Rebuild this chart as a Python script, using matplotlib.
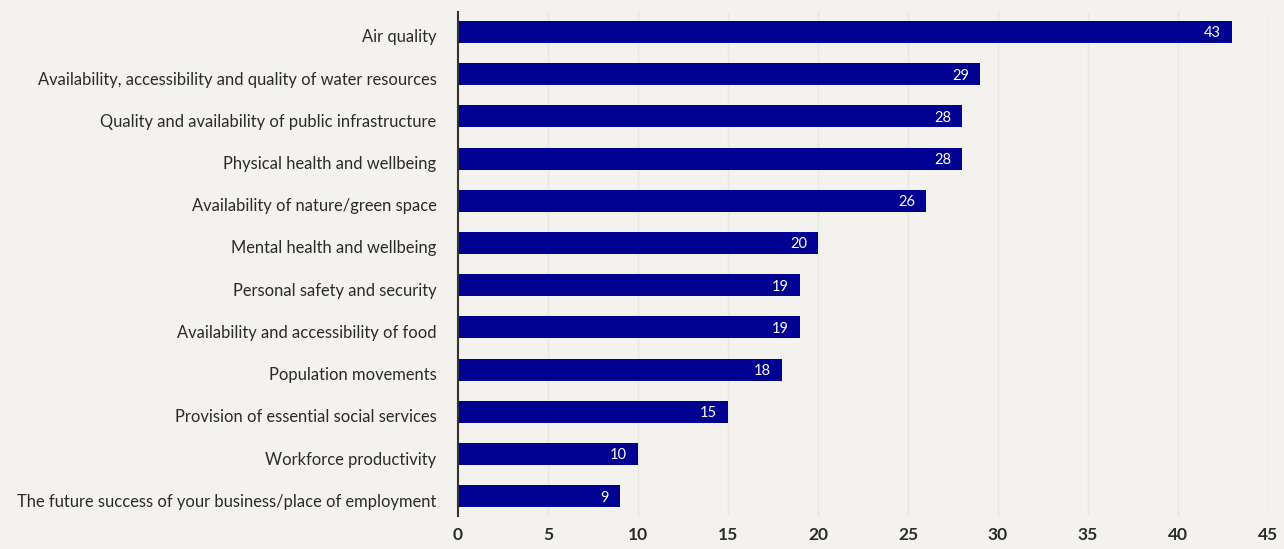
import matplotlib.pyplot as plt
from matplotlib.transforms import ScaledTranslation

plt.rcParams['font.family'] = ['Lato', 'DejaVu Sans']

categories = [
    "Air quality",
    "Availability, accessibility and quality of water resources",
    "Quality and availability of public infrastructure",
    "Physical health and wellbeing",
    "Availability of nature/green space",
    "Mental health and wellbeing",
    "Personal safety and security",
    "Availability and accessibility of food",
    "Population movements",
    "Provision of essential social services",
    "Workforce productivity",
    "The future success of your business/place of employment",
]
values = [43, 29, 28, 28, 26, 20, 19, 19, 18, 15, 10, 9]
xticks = [0, 5, 10, 15, 20, 25, 30, 35, 40, 45]

bg = "#f4f2ee"
bar_color = "#000091"

fig = plt.figure(figsize=(12.84, 5.49), dpi=100, facecolor=bg)
ax = fig.add_axes([0.3567, 0.060, 0.6308, 0.918], facecolor=bg)

pos = list(range(len(categories)))
ax.barh(pos, values, height=0.52, color=bar_color, zorder=3)

for y, v in zip(pos, values):
    ax.annotate(str(v), xy=(v, y), xytext=(-8, -1), textcoords="offset points",
                ha="right", va="center", color="white", fontsize=10.5, zorder=4)

ax.set_ylim(len(categories) - 0.53, -0.47)
ax.set_xlim(0, 45)
ax.set_yticks(pos)
ax.set_yticklabels(categories, fontsize=11.9, color="#2b2b2b")
ax.set_xticks(xticks)
ax.set_xticklabels([str(t) for t in xticks], fontsize=12.5, fontweight="bold", color="#2b2b2b")
ax.tick_params(axis="both", length=0)
ax.tick_params(axis="y", pad=15.5)
ax.tick_params(axis="x", pad=8)

# nudge category labels down slightly
shift = ScaledTranslation(0, -4 / 100, fig.dpi_scale_trans)
for lbl in ax.get_yticklabels():
    lbl.set_transform(lbl.get_transform() + shift)

ax.grid(axis="x", color="#eae7e3", linewidth=1, zorder=0)
for side in ["top", "right", "bottom"]:
    ax.spines[side].set_visible(False)
ax.spines["left"].set_color("#333333")
ax.spines["left"].set_linewidth(1.5)
ax.spines["left"].set_zorder(5)

fig.savefig("out.png", dpi=100, facecolor=bg)
